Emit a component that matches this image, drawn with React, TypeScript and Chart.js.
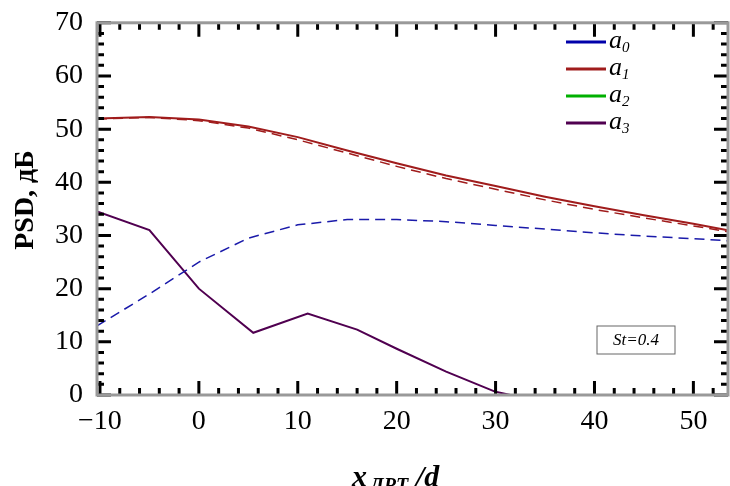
import React, { useEffect, useRef } from "react";
import { Chart, registerables } from "chart.js";
Chart.register(...registerables);

const xs = [-10.3, -5, 0, 5, 10, 15, 20, 25, 30, 35, 40, 45, 50, 53.5];
const a0Dashed = [13, 19, 25, 29.5, 32, 33, 33, 32.6, 31.9, 31.2, 30.5, 29.9, 29.4, 29];
const a1Solid = [52, 52.3, 51.8, 50.5, 48.5, 46, 43.6, 41.3, 39.3, 37.3, 35.5, 33.8, 32.2, 31];
const a1Dashed = [51.9, 52.2, 51.6, 50.2, 48, 45.5, 43, 40.7, 38.7, 36.7, 34.9, 33.3, 31.8, 30.7];
const a3X = [-10.3, -5, 0, 5.5, 11, 16, 20, 25, 30, 31.5];
const a3Solid = [34.5, 31, 20, 11.7, 15.3, 12.3, 8.7, 4.4, 0.6, 0];
const legendLabels = ["a", "a", "a", "a"];
const legendSubs = ["0", "1", "2", "3"];
const legendColors = ["#0000aa", "#a01c1c", "#00b000", "#500050"];
const xTicks = [-10, 0, 10, 20, 30, 40, 50];

const pts = (x: number[], y: number[]) => x.map((v, i) => ({ x: v, y: y[i] }));

export default function App() {
  const ref = useRef<HTMLCanvasElement>(null);
  useEffect(() => {
    document.body.style.margin = "0";
    const deco = {
      id: "deco",
      afterDraw(c: any) {
        const g = c.ctx, a = c.chartArea, sx = c.scales.x, sy = c.scales.y;
        g.save();
        g.strokeStyle = "#000"; g.lineWidth = 3;
        for (let v = -10; v <= 53; v += 2) {
          const p = sx.getPixelForValue(v), L = v % 10 === 0 ? 14 : 7;
          g.beginPath(); g.moveTo(p, a.bottom); g.lineTo(p, a.bottom - L); g.moveTo(p, a.top); g.lineTo(p, a.top + L); g.stroke();
        }
        for (let v = 0; v <= 70; v += 2) {
          const p = sy.getPixelForValue(v), L = v % 10 === 0 ? 14 : 7;
          g.beginPath(); g.moveTo(a.left, p); g.lineTo(a.left + L, p); g.moveTo(a.right, p); g.lineTo(a.right - L, p); g.stroke();
        }
        g.strokeStyle = "#999"; g.lineWidth = 3;
        g.strokeRect(a.left, a.top, a.right - a.left, a.bottom - a.top);
        legendLabels.forEach((t, i) => {
          const y = 42 + i * 27;
          g.strokeStyle = legendColors[i]; g.lineWidth = 3;
          g.beginPath(); g.moveTo(566, y); g.lineTo(606, y); g.stroke();
          g.fillStyle = "#000"; g.font = "italic 26px 'Liberation Serif'"; g.textBaseline = "alphabetic";
          g.fillText(t, 609, y + 6);
          g.font = "italic 15px 'Liberation Serif'"; g.fillText(legendSubs[i], 622, y + 10);
        });
        g.strokeStyle = "#666"; g.lineWidth = 1; g.strokeRect(597, 326, 78, 28);
        g.fillStyle = "#000"; g.font = "italic 17px 'Liberation Serif'"; g.textAlign = "center"; g.textBaseline = "middle";
        g.fillText("St=0.4", 636, 341);
        g.font = "bold 28px 'Liberation Serif'";
        g.save(); g.translate(26, 200); g.rotate(-Math.PI / 2); g.fillText("PSD, дБ", 0, 0); g.restore();
        g.font = "italic bold 30px 'Liberation Serif'"; g.textAlign = "left"; g.textBaseline = "alphabetic";
        g.fillText("x", 352, 486);
        g.font = "italic bold 20px 'Liberation Serif'"; g.fillText("ДРТ", 370, 492);
        g.font = "italic bold 30px 'Liberation Serif'"; g.fillText("/d", 416, 486);
        g.restore();
      },
    };
    const ch = new Chart(ref.current!, {
      type: "line",
      data: {
        datasets: [
          { data: pts(xs, a0Dashed), borderColor: "#1a1aaa", borderDash: [10, 6], borderWidth: 1.5 },
          { data: pts(xs, a1Dashed), borderColor: "#a01c1c", borderDash: [10, 6], borderWidth: 1.5 },
          { data: pts(xs, a1Solid), borderColor: "#a01c1c", borderWidth: 2 },
          { data: pts(a3X, a3Solid), borderColor: "#500050", borderWidth: 2 },
        ] as any,
      },
      options: {
        animation: false, responsive: false,
        elements: { point: { radius: 0 }, line: { tension: 0 } },
        layout: { padding: { top: -10, right: 2 } },
        plugins: { legend: { display: false }, tooltip: { enabled: false } },
        scales: {
          x: {
            type: "linear", min: -10.3, max: 53.5,
            afterFit: (s: any) => { s.height = 91; },
            afterBuildTicks: (s: any) => { s.ticks = xTicks.map((v) => ({ value: v })); },
            grid: { display: false }, border: { display: false },
            ticks: { color: "#000", font: { family: "'Liberation Serif'", size: 28 }, padding: 2, callback: (v: any) => (v < 0 ? "−" + -v : "" + v), maxRotation: 0 },
          },
          y: {
            min: 0, max: 70,
            afterFit: (s: any) => { s.width = 97; },
            grid: { display: false }, border: { display: false },
            ticks: { stepSize: 10, color: "#000", font: { family: "'Liberation Serif'", size: 28 }, padding: 6 },
          },
        },
      } as any,
      plugins: [deco],
    });
    return () => ch.destroy();
  }, []);
  return <canvas ref={ref} width={730} height={486} style={{ display: "block" }} />;
}
